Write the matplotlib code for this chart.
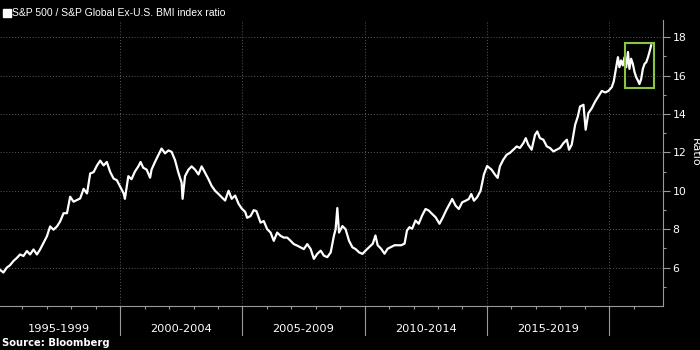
import matplotlib
matplotlib.use("Agg")
import matplotlib.pyplot as plt
from matplotlib.patches import Rectangle
import matplotlib.transforms as mtransforms

# S&P 500 / S&P Global Ex-U.S. BMI ratio (decimal years)
years = [
    1995.08, 1995.22, 1995.36, 1995.49, 1995.63, 1995.77, 1995.90, 1996.04, 1996.18, 1996.31,
    1996.45, 1996.59, 1996.72, 1996.86, 1997.00, 1997.13, 1997.27, 1997.41, 1997.54, 1997.68,
    1997.82, 1997.95, 1998.09, 1998.23, 1998.36, 1998.50, 1998.64, 1998.77, 1998.91, 1999.05,
    1999.18, 1999.32, 1999.45, 1999.59, 1999.73, 1999.86, 2000.00, 2000.14, 2000.19, 2000.33,
    2000.46, 2000.60, 2000.74, 2000.83, 2000.94, 2001.08, 2001.22, 2001.28, 2001.42, 2001.56,
    2001.69, 2001.83, 2001.97, 2002.10, 2002.24, 2002.38, 2002.51, 2002.55, 2002.65, 2002.79,
    2002.92, 2003.06, 2003.20, 2003.33, 2003.47, 2003.61, 2003.74, 2003.88, 2004.02, 2004.15,
    2004.29, 2004.43, 2004.56, 2004.70, 2004.84, 2004.97, 2005.11, 2005.19, 2005.33, 2005.46,
    2005.57, 2005.74, 2005.87, 2006.01, 2006.15, 2006.28, 2006.42, 2006.56, 2006.69, 2006.83,
    2006.97, 2007.10, 2007.24, 2007.38, 2007.51, 2007.65, 2007.79, 2007.92, 2008.06, 2008.20,
    2008.33, 2008.47, 2008.61, 2008.74, 2008.81, 2008.88, 2008.95, 2009.09, 2009.22, 2009.36,
    2009.50, 2009.63, 2009.77, 2009.91, 2010.05, 2010.19, 2010.33, 2010.44, 2010.53, 2010.67,
    2010.81, 2010.94, 2011.08, 2011.22, 2011.35, 2011.49, 2011.63, 2011.73, 2011.83, 2011.94,
    2012.08, 2012.21, 2012.35, 2012.49, 2012.62, 2012.76, 2012.90, 2013.06, 2013.20, 2013.33,
    2013.47, 2013.58, 2013.72, 2013.85, 2013.99, 2014.13, 2014.26, 2014.36, 2014.47, 2014.60,
    2014.74, 2014.88, 2015.01, 2015.19, 2015.33, 2015.44, 2015.53, 2015.67, 2015.81, 2015.94,
    2016.08, 2016.22, 2016.35, 2016.49, 2016.59, 2016.69, 2016.83, 2016.97, 2017.06, 2017.17,
    2017.31, 2017.45, 2017.58, 2017.72, 2017.86, 2017.99, 2018.13, 2018.27, 2018.36, 2018.47,
    2018.61, 2018.72, 2018.81, 2018.95, 2019.04, 2019.15, 2019.29, 2019.43, 2019.56, 2019.70,
    2019.84, 2019.97, 2020.11, 2020.19, 2020.29, 2020.36, 2020.42, 2020.49, 2020.56, 2020.63,
    2020.70, 2020.77, 2020.83, 2020.90, 2020.97, 2021.04, 2021.11, 2021.18, 2021.24, 2021.31,
    2021.38, 2021.45, 2021.52, 2021.59, 2021.65, 2021.72,
]
ratio = [
    5.88, 5.74, 6.00, 6.12, 6.34, 6.50, 6.68, 6.60, 6.86, 6.68,
    6.94, 6.68, 6.94, 7.28, 7.63, 8.14, 7.97, 8.14, 8.40, 8.83,
    8.83, 9.69, 9.43, 9.52, 9.60, 10.10, 9.86, 10.90, 10.97, 11.32,
    11.57, 11.32, 11.50, 10.97, 10.63, 10.55, 10.20, 9.86, 9.58, 10.76,
    10.60, 11.00, 11.27, 11.50, 11.20, 11.10, 10.68, 11.10, 11.50, 11.86,
    12.20, 11.95, 12.10, 12.03, 11.60, 10.93, 10.42, 9.58, 10.76, 11.10,
    11.27, 11.10, 10.85, 11.27, 10.93, 10.60, 10.25, 10.00, 9.83, 9.66,
    9.49, 10.00, 9.58, 9.75, 9.32, 9.07, 8.90, 8.59, 8.68, 8.99,
    8.94, 8.34, 8.42, 8.00, 7.82, 7.39, 7.82, 7.65, 7.56, 7.56,
    7.39, 7.22, 7.14, 7.05, 6.96, 7.22, 6.96, 6.45, 6.71, 6.88,
    6.62, 6.54, 6.79, 7.65, 7.99, 9.10, 7.82, 8.16, 7.99, 7.39,
    7.05, 6.96, 6.79, 6.71, 6.90, 7.07, 7.24, 7.67, 7.16, 6.98,
    6.72, 6.98, 7.07, 7.16, 7.16, 7.16, 7.24, 7.93, 8.10, 8.02,
    8.45, 8.28, 8.71, 9.05, 8.97, 8.79, 8.62, 8.28, 8.62, 8.97,
    9.31, 9.57, 9.22, 9.05, 9.40, 9.48, 9.57, 9.83, 9.48, 9.66,
    10.00, 10.86, 11.29, 11.10, 10.84, 10.67, 11.27, 11.62, 11.88, 11.97,
    12.14, 12.31, 12.23, 12.48, 12.74, 12.40, 12.14, 12.92, 13.09, 12.74,
    12.66, 12.31, 12.23, 12.05, 12.14, 12.23, 12.48, 12.66, 12.14, 12.40,
    13.44, 13.87, 14.39, 14.48, 13.18, 14.04, 14.30, 14.65, 14.91, 15.20,
    15.12, 15.20, 15.40, 15.70, 16.44, 16.96, 16.44, 16.79, 16.53, 16.96,
    16.44, 17.23, 16.35, 16.88, 16.61, 16.18, 15.91, 15.74, 15.56, 15.82,
    16.35, 16.61, 16.70, 16.96, 17.23, 17.58,
]

period_starts = [1995, 2000, 2005, 2010, 2015]
period_labels = ["1995-1999", "2000-2004", "2005-2009", "2010-2014", "2015-2019"]
separators = [2000, 2005, 2010, 2015, 2020]
y_ticks = [6, 8, 10, 12, 14, 16, 18]

# highlighted recent stretch
box_x = (2020.66, 2021.85)
box_y = (15.37, 17.69)

title = "S&P 500 / S&P Global Ex-U.S. BMI index ratio"
source = "Source: Bloomberg"

grid_col = "#5a5a5a"
axis_col = "#9a9a9a"

fig = plt.figure(figsize=(7, 3.5), dpi=100, facecolor="black")
ax = fig.add_axes([0.0, 0.126, 0.947, 0.817])
ax.set_facecolor("black")

ax.plot(years, ratio, color="white", lw=1.6, zorder=3)

ax.add_patch(Rectangle((box_x[0], box_y[0]), box_x[1] - box_x[0], box_y[1] - box_y[0],
                       fill=False, edgecolor="#8cc63f", lw=1.5, zorder=4))

ax.set_xlim(1995.08, 2022.2)
ax.set_ylim(4.0, 18.9)

# right-hand value axis
ax.yaxis.tick_right()
ax.set_yticks(y_ticks)
ax.set_yticks([5, 7, 9, 11, 13, 15, 17], minor=True)
ax.tick_params(axis="y", which="major", length=5, width=0.8, color=axis_col,
               labelcolor="white", labelsize=7.8, pad=2)
ax.tick_params(axis="y", which="minor", length=2.5, width=0.8, color=axis_col)
for lab in ax.get_yticklabels():
    lab.set_family("DejaVu Sans")
fig.text(694.5 / 700, 1 - 152 / 350, "Ratio", color="white", fontsize=8,
         rotation=270, ha="center", va="center", family="DejaVu Sans")

# bottom axis: yearly ticks, no labels
ax.set_xticks(separators)
ax.set_xticks(range(1996, 2022), minor=True)
ax.set_xticklabels([])
ax.tick_params(axis="x", which="both", length=2, width=0.8, color=axis_col)

for side in ["top", "left"]:
    ax.spines[side].set_visible(False)
for side in ["right", "bottom"]:
    ax.spines[side].set_color(axis_col)
    ax.spines[side].set_linewidth(0.8)

ax.grid(True, which="major", axis="both", color=grid_col, lw=0.7, linestyle=(0, (1, 2)))
ax.set_axisbelow(True)

# period separators and labels under the axis
trans = mtransforms.blended_transform_factory(ax.transData, ax.transAxes)
for s in separators:
    ax.plot([s, s], [0, -0.103], transform=trans, color=axis_col, lw=0.8, clip_on=False)
for start, lab in zip(period_starts, period_labels):
    ax.text(start + 2.5, -0.08, lab, transform=trans, ha="center", va="center",
            color="white", fontsize=8.2, family="DejaVu Sans")

# legend-like title and source
fig.patches.append(Rectangle((3 / 700, 1 - 17 / 350), 7.5 / 700, 7.5 / 350,
                             transform=fig.transFigure, color="white"))
fig.text(12 / 700, 1 - 13 / 350, title, color="white", fontsize=7.5,
         family="Liberation Sans", va="center", ha="left")
fig.text(2 / 700, 1 - 343 / 350, source, color="white", fontsize=7.2,
         family="DejaVu Sans", weight="bold", va="center", ha="left")

fig.savefig("out.png", dpi=100, facecolor="black")
